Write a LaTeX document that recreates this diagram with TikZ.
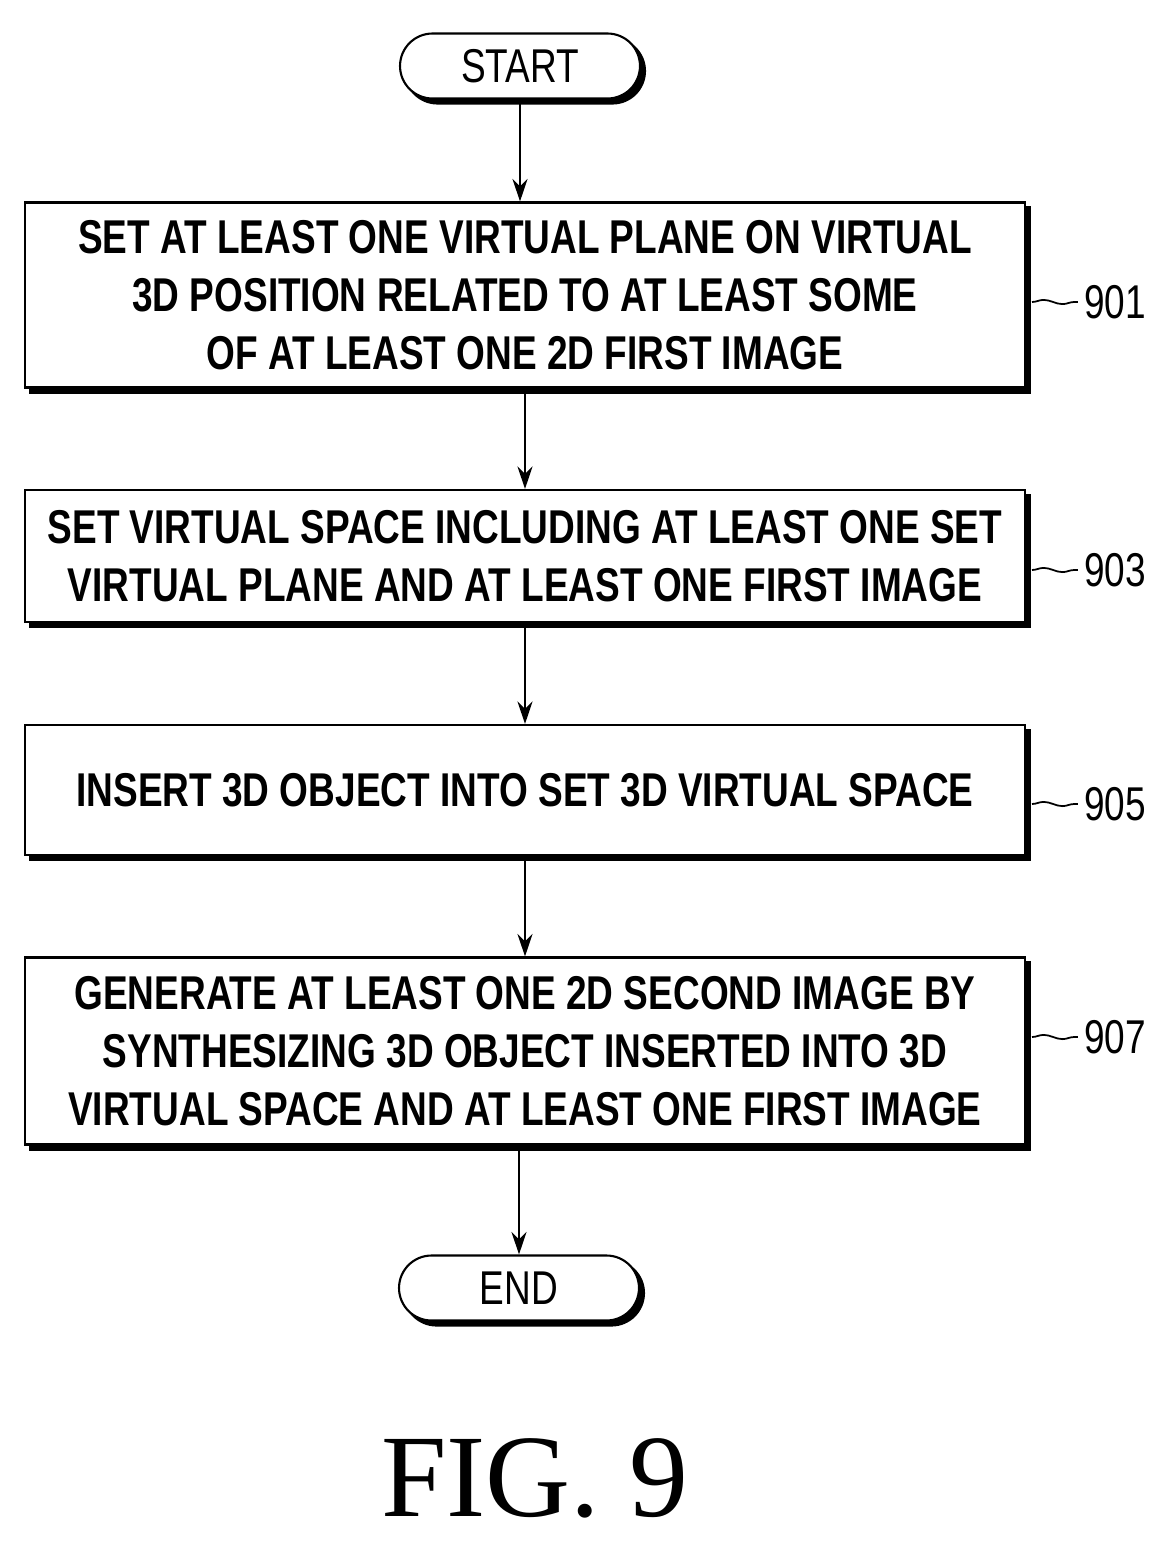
\documentclass[tikz,border=0pt]{standalone}
\usepackage{fontspec}
\setmainfont{Liberation Sans}[FakeStretch=0.78]
\newfontfamily\figfont{Liberation Serif}
\usetikzlibrary{shadows,decorations.pathmorphing,arrows.meta}
\tikzset{
  stepbox/.style={draw, line width=1.2pt, fill=white, minimum width=20cm, align=center,
    font=\bfseries\fontsize{27}{33}\selectfont, copy shadow={shadow xshift=0.1cm, shadow yshift=-0.1cm, fill=black, draw=black}},
  termbox/.style={stepbox, font=\fontsize{27}{33}\selectfont, rounded corners=0.65cm, minimum width=4.8cm, minimum height=1.3cm},
  refnum/.style={font=\fontsize{27}{33}\selectfont},
  flow/.style={-{Stealth[length=0.45cm, width=0.3cm]}, line width=1.2pt}
}
\begin{document}
\begin{tikzpicture}[x=0.02cm, y=-0.02cm]
        \useasboundingbox (0,0) rectangle (1170,1542);
        % Terminals and steps
        \node[termbox] (start) at (520,66) {START};
        \node[stepbox, minimum height=3.7cm] (s901) at (525,295) {SET AT LEAST ONE VIRTUAL PLANE ON VIRTUAL\\3D POSITION RELATED TO AT LEAST SOME\\OF AT LEAST ONE 2D FIRST IMAGE};
        \node[stepbox, minimum height=2.64cm] (s903) at (525,556) {SET VIRTUAL SPACE INCLUDING AT LEAST ONE SET\\VIRTUAL PLANE AND AT LEAST ONE FIRST IMAGE};
        \node[stepbox, minimum height=2.6cm] (s905) at (525,790) {INSERT 3D OBJECT INTO SET 3D VIRTUAL SPACE};
        \node[stepbox, minimum height=3.74cm] (s907) at (525,1051) {GENERATE AT LEAST ONE 2D SECOND IMAGE BY\\SYNTHESIZING 3D OBJECT INSERTED INTO 3D\\VIRTUAL SPACE AND AT LEAST ONE FIRST IMAGE};
        \node[termbox] (end) at (519,1288) {END};
        
        % Arrows
        \draw[flow] (start) -- (start |- s901.north);
        \draw[flow] (s901) -- (s903);
        \draw[flow] (s903) -- (s905);
        \draw[flow] (s905) -- (s907);
        \draw[flow] (s907.south -| end) -- (end);
        
        % Reference numbers
        \foreach \nm/\lbl/\yy in {s901/901/302, s903/903/570, s905/905/804, s907/907/1037}{
          \node[refnum] (n\lbl) at (1115,\yy) {\lbl};
          \draw[line width=1pt, decorate, decoration={snake, amplitude=1.2pt, segment length=0.75cm}] (1032,\yy) -- (n\lbl.west);
        }
        
        \node[font=\figfont\fontsize{67}{70}\selectfont] (fig) at (535,1478) {FIG. 9};
\end{tikzpicture}
\end{document}
